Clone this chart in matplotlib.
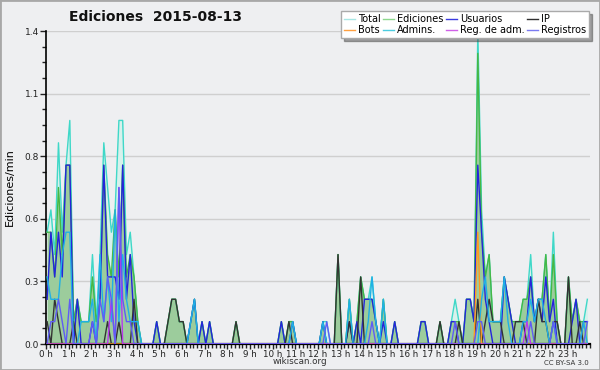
import numpy as np
import matplotlib
matplotlib.use("Agg")
import matplotlib.pyplot as plt
from matplotlib.lines import Line2D
from matplotlib.patches import Rectangle

# edits per 10-minute bin (144 bins for the day); plotted as edits/min
total = [
    5, 6, 4, 9, 5, 8,   10, 1, 2, 1, 1, 1,   4, 1, 4, 9, 7, 5,   6, 10, 10, 4, 5, 3,
    1, 0, 0, 0, 0, 1,   0, 0, 1, 2, 2, 1,    1, 0, 1, 2, 0, 1,   0, 1, 0, 0, 0, 0,
    0, 0, 1, 0, 0, 0,   0, 0, 0, 0, 0, 0,    0, 0, 1, 0, 1, 1,   0, 0, 0, 0, 0, 0,
    0, 1, 1, 0, 0, 4,   0, 0, 2, 0, 1, 3,    2, 2, 3, 1, 0, 2,   0, 0, 1, 0, 0, 0,
    0, 0, 0, 1, 1, 0,   0, 0, 1, 0, 0, 1,    2, 1, 0, 2, 2, 1,   14, 6, 3, 4, 1, 1,
    1, 3, 2, 1, 1, 1,   2, 2, 4, 1, 2, 2,    4, 1, 5, 1, 0, 0,   3, 1, 2, 1, 1, 2]
ediciones = [
    5, 5, 3, 7, 4, 8,   8, 1, 2, 1, 1, 1,    3, 1, 2, 8, 4, 3,   6, 3, 8, 3, 4, 3,
    1, 0, 0, 0, 0, 1,   0, 0, 1, 2, 2, 1,    1, 0, 1, 2, 0, 1,   0, 1, 0, 0, 0, 0,
    0, 0, 1, 0, 0, 0,   0, 0, 0, 0, 0, 0,    0, 0, 1, 0, 1, 1,   0, 0, 0, 0, 0, 0,
    0, 1, 0, 0, 0, 4,   0, 0, 2, 0, 1, 3,    2, 2, 2, 1, 0, 2,   0, 0, 1, 0, 0, 0,
    0, 0, 0, 1, 1, 0,   0, 0, 1, 0, 0, 1,    1, 1, 0, 2, 2, 1,   13, 5, 3, 4, 1, 1,
    1, 3, 2, 1, 1, 1,   2, 2, 3, 1, 2, 2,    4, 1, 4, 1, 0, 0,   3, 1, 2, 1, 1, 1]
usuarios = [
    2, 5, 3, 5, 3, 8,   8, 0, 2, 0, 0, 0,    1, 0, 2, 8, 3, 3,   3, 2, 8, 2, 4, 1,
    0, 0, 0, 0, 0, 1,   0, 0, 0, 0, 0, 0,    0, 0, 1, 2, 0, 1,   0, 1, 0, 0, 0, 0,
    0, 0, 0, 0, 0, 0,   0, 0, 0, 0, 0, 0,    0, 0, 1, 0, 0, 1,   0, 0, 0, 0, 0, 0,
    0, 1, 0, 0, 0, 0,   0, 0, 1, 0, 1, 0,    2, 2, 2, 1, 0, 1,   0, 0, 1, 0, 0, 0,
    0, 0, 0, 1, 1, 0,   0, 0, 0, 0, 0, 1,    1, 0, 0, 2, 2, 1,   8, 5, 2, 1, 0, 0,
    0, 3, 2, 1, 0, 0,   1, 1, 3, 1, 2, 1,    3, 1, 2, 0, 0, 0,   0, 1, 2, 0, 1, 1]
ip = [
    1, 0, 2, 1, 0, 0,   0, 1, 0, 0, 0, 0,    0, 0, 0, 0, 1, 0,   0, 1, 0, 0, 0, 2,
    0, 0, 0, 0, 0, 0,   0, 0, 1, 2, 2, 1,    1, 0, 0, 0, 0, 0,   0, 0, 0, 0, 0, 0,
    0, 0, 1, 0, 0, 0,   0, 0, 0, 0, 0, 0,    0, 0, 0, 0, 1, 0,   0, 0, 0, 0, 0, 0,
    0, 0, 0, 0, 0, 4,   0, 0, 1, 0, 0, 3,    0, 0, 0, 0, 0, 0,   0, 0, 0, 0, 0, 0,
    0, 0, 0, 0, 0, 0,   0, 0, 1, 0, 0, 0,    0, 1, 0, 0, 0, 0,   2, 0, 1, 2, 1, 1,
    1, 0, 0, 0, 1, 1,   1, 0, 0, 0, 2, 1,    1, 0, 1, 1, 0, 0,   3, 0, 0, 1, 0, 0]
bots = [0] * 114 + [5] + [0] * 29
admins = [
    3, 2, 2, 2, 4, 5,   5, 0, 0, 1, 1, 1,    2, 0, 4, 1, 3, 1,   6, 1, 4, 2, 1, 1,
    1, 0, 0, 0, 0, 0,   0, 0, 0, 0, 0, 0,    0, 0, 1, 2, 0, 0,   0, 0, 0, 0, 0, 0,
    0, 0, 0, 0, 0, 0,   0, 0, 0, 0, 0, 0,    0, 0, 0, 0, 0, 1,   0, 0, 0, 0, 0, 0,
    0, 1, 0, 0, 0, 0,   0, 0, 2, 0, 0, 0,    0, 1, 3, 1, 0, 2,   0, 0, 0, 0, 0, 0,
    0, 0, 0, 0, 0, 0,   0, 0, 0, 0, 0, 0,    0, 0, 0, 0, 0, 0,   0, 2, 3, 1, 1, 1,
    1, 3, 1, 0, 0, 0,   1, 1, 2, 1, 2, 2,    1, 0, 1, 0, 0, 0,   0, 0, 0, 0, 1, 0]
reg_adm = [
    0, 0, 0, 0, 0, 0,   0, 0, 0, 0, 0, 0,    0, 0, 0, 0, 0, 2,   0, 7, 0, 0, 0, 0,
    0, 0, 0, 0, 0, 0,   0, 0, 0, 0, 0, 0,    0, 0, 0, 0, 0, 0,   0, 0, 0, 0, 0, 0,
    0, 0, 0, 0, 0, 0,   0, 0, 0, 0, 0, 0,    0, 0, 0, 0, 0, 0,   0, 0, 0, 0, 0, 0,
    0, 0, 0, 0, 0, 0,   0, 0, 0, 0, 0, 0,    0, 0, 0, 0, 0, 0,   0, 0, 0, 0, 0, 0,
    0, 0, 0, 0, 0, 0,   0, 0, 0, 0, 0, 0,    0, 0, 0, 0, 0, 0,   0, 0, 0, 0, 0, 0,
    0, 0, 0, 0, 0, 0,   0, 1, 0, 0, 0, 0,    0, 0, 0, 0, 0, 0,   0, 0, 0, 0, 0, 0]
registros = [
    0, 1, 1, 2, 1, 0,   2, 0, 0, 0, 0, 0,    1, 0, 2, 1, 3, 2,   0, 7, 2, 1, 1, 0,
    0, 0, 0, 0, 0, 0,   0, 0, 0, 0, 0, 0,    0, 0, 0, 0, 0, 0,   0, 0, 0, 0, 0, 0,
    0, 0, 0, 0, 0, 0,   0, 0, 0, 0, 0, 0,    0, 0, 0, 0, 0, 0,   0, 0, 0, 0, 0, 0,
    0, 0, 1, 0, 0, 0,   0, 0, 0, 0, 0, 0,    0, 0, 1, 0, 0, 0,   0, 0, 0, 0, 0, 0,
    0, 0, 0, 0, 0, 0,   0, 0, 0, 0, 0, 0,    1, 0, 0, 0, 0, 0,   1, 1, 0, 0, 0, 0,
    0, 0, 0, 0, 0, 0,   0, 0, 1, 0, 0, 0,    0, 0, 1, 0, 0, 0,   0, 0, 0, 0, 0, 1]

hour_labels = [f"{h} h" for h in range(24)]
y_ticks = [0.0, 0.28, 0.56, 0.84, 1.12, 1.4]

BG = "#eeeff1"
fig = plt.figure(figsize=(6, 3.7), dpi=100, facecolor=BG)
ax = fig.add_axes([46 / 600, 26 / 370, 544 / 600, 313 / 370], facecolor=BG)

x = (np.arange(len(total)) + 0.3) / 6.0

def per_min(v):
    return np.asarray(v, dtype=float) / 10.0

ax.fill_between(x, per_min(total), color="#d7f1ec", lw=0, zorder=1)
ax.fill_between(x, per_min(ediciones), color="#9ccc9c", lw=0, zorder=2)

series = [
    (total, "#3fd8c8"),
    (ediciones, "#45b845"),
    (usuarios, "#2424dc"),
    (ip, "#333333"),
    (bots, "#ff9a22"),
    (admins, "#1fb0e6"),
    (reg_adm, "#b838ee"),
    (registros, "#5f5cf5"),
]
for i, (vals, col) in enumerate(series):
    ax.plot(x, per_min(vals), color=col, lw=1.0, zorder=3 + i)

ax.set_xlim(0, 24)
ax.set_ylim(0, 1.4)
ax.set_xticks(range(24))
ax.set_xticklabels(hour_labels)
ax.set_xticks(np.arange(0, 24.001, 1 / 6), minor=True)
ax.set_yticks(y_ticks)
ax.set_yticklabels([f"{v:.1f}" for v in y_ticks])
ax.set_yticks(np.arange(0, 1.4001, 0.07), minor=True)
ax.tick_params(axis="x", which="major", labelsize=6.3, colors="#222222",
               length=3.5, width=1, pad=0.5)
ax.tick_params(axis="y", which="major", labelsize=6.5, colors="#222222",
               length=4, width=1, pad=1)
ax.tick_params(axis="both", which="minor", length=3, width=1, color="#222222")
ax.grid(axis="y", which="major", color="#cfcfcf", lw=1)
ax.set_axisbelow(True)
for s in ("top", "right"):
    ax.spines[s].set_visible(False)
ax.spines["left"].set_linewidth(1.2)
ax.spines["bottom"].set_linewidth(1.6)
ax.set_ylabel("Ediciones/min", fontsize=8, labelpad=7)

fig.text(155 / 600, 1 - 17 / 370, "Ediciones  2015-08-13", fontsize=10,
         fontweight="bold", ha="center", va="center", color="#111111")
fig.text(300 / 600, 1 - 362 / 370, "wikiscan.org", fontsize=6.3,
         ha="center", va="center", color="#333333")
fig.text(589 / 600, 1 - 363 / 370, "CC BY-SA 3.0", fontsize=5,
         ha="right", va="center", color="#333333")

leg_items = [
    ("Total", "#a8e6e4"), ("Bots", "#ffa040"),
    ("Ediciones", "#8ed88e"), ("Admins.", "#4ccce0"),
    ("Usuarios", "#3a3ae0"), ("Reg. de adm.", "#d060e8"),
    ("IP", "#303030"), ("Registros", "#7a7af2"),
]
handles = [Line2D([], [], color=c, lw=1.0) for _, c in leg_items]
labels = [l for l, _ in leg_items]
leg = fig.legend(handles, labels, loc="upper right",
                 bbox_to_anchor=(589 / 600, 1 - 11 / 370), ncol=4,
                 fontsize=7, frameon=True, fancybox=False, shadow=True,
                 handlelength=1.1, handletextpad=0.3, columnspacing=0.3,
                 borderpad=0.3, labelspacing=0.15, borderaxespad=0)
leg.get_frame().set_edgecolor("#aaaaaa")
leg.get_frame().set_facecolor("white")
leg.get_frame().set_alpha(1)

fig.add_artist(Rectangle((0, 0), 1, 1, transform=fig.transFigure, fill=False,
                         edgecolor="#a8a8a8", lw=2))

fig.savefig("out.png", dpi=100, facecolor=BG)
